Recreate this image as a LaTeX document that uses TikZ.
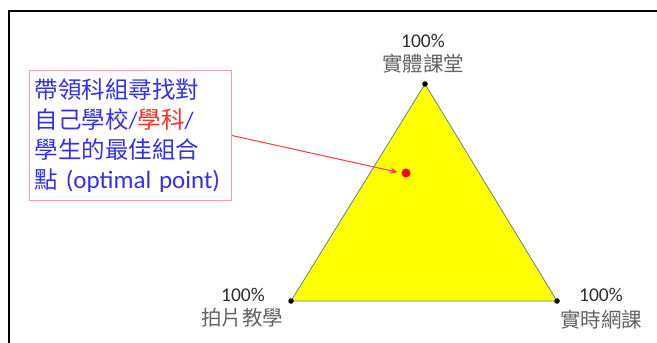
\documentclass[tikz,border=0pt]{standalone}
\usepackage{fontspec}
\usetikzlibrary{arrows.meta}
\setmainfont{Carlito}
\newfontfamily\cjk{Noto Sans CJK TC}
\definecolor{txtblue}{RGB}{50,50,230}
\definecolor{txtred}{RGB}{255,45,45}
\definecolor{boxpink}{RGB}{245,160,165}
\definecolor{edgeblue}{RGB}{95,130,165}
\definecolor{lblgray}{RGB}{45,45,45}
\definecolor{cjkgray}{RGB}{100,100,100}
\definecolor{pureyellow}{RGB}{255,255,0}
\definecolor{arrred}{RGB}{250,60,60}
\begin{document}
\begin{tikzpicture}[x=1pt,y=-1pt,
  vdot/.style={circle,fill=black,inner sep=0pt,minimum size=5.5pt},
  pct/.style={font=\fontsize{19.5}{19.5}\selectfont,text=lblgray,inner sep=0pt},
  cjklbl/.style={font=\cjk\fontsize{20.5}{20.5}\selectfont,text=cjkgray,inner sep=0pt},
  callout/.style={draw=boxpink,line width=1.1pt,fill=white,text=txtblue,align=left,
     font=\cjk\fontsize{23.5}{30}\selectfont,inner xsep=5pt,inner ysep=2pt}]
\useasboundingbox (0,0) rectangle (657,343);
\fill[white] (0,0) rectangle (657,343);
% frame
\draw[line width=2pt] (9,343) -- (9,11) -- (657,11);
% triangle
\coordinate (T) at (425,84);
\coordinate (L) at (291,301);
\coordinate (R) at (557,301);
\filldraw[fill=pureyellow,draw=edgeblue,line width=0.8pt] (T) -- (L) -- (R) -- cycle;
\node[vdot] (vt) at (T) {};
\node[vdot] (vl) at (L) {};
\node[vdot] (vr) at (R) {};
% labels
\node[pct] (pt) at (423,41) {100\%};
\node[cjklbl] (ct) at (423,64) {實體課堂};
\node[pct] (pl) at (243,295) {100\%};
\node[cjklbl] (cl) at (242,318) {拍片教學};
\node[pct] (pr) at (601,295) {100\%};
\node[cjklbl] (cr) at (601,320) {實時網課};
% callout
\node[callout,anchor=north west,text width=192pt,minimum height=130pt] (tb) at (29,70)
 {帶領科組尋找對\\自己學校{\rmfamily/}\textcolor{txtred}{學科}{\rmfamily/}\\學生的最佳組合\\點 {\rmfamily\fontsize{25}{30}\selectfont (optimal point)}};
\node[circle,fill=red,inner sep=0pt,minimum size=9pt] (opt) at (406,173) {};
\draw[arrred,line width=1pt,-{Stealth[length=7pt,width=6pt]},shorten >=4pt] (tb.east) -- (opt.west);
\end{tikzpicture}
\end{document}
